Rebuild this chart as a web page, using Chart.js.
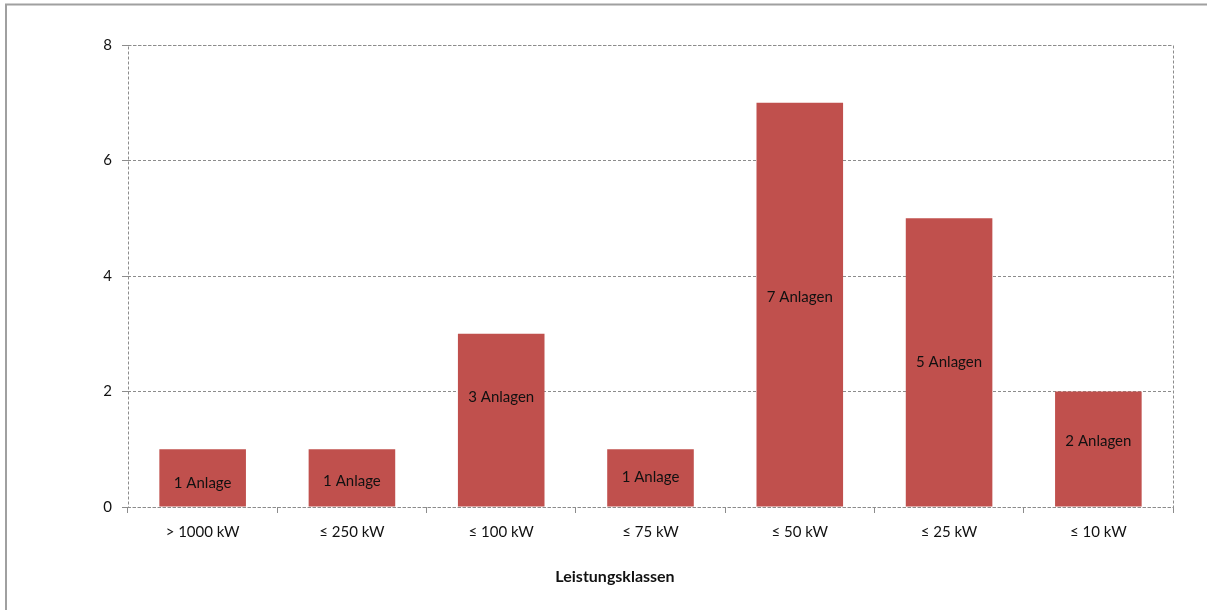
<!DOCTYPE html>
<html>
<head>
<meta charset="utf-8">
<script src="https://cdn.jsdelivr.net/npm/chart.js@4"></script>
<style>
  html, body { margin: 0; padding: 0; background: #fff; }
  #wrap { width: 1207px; height: 610px; position: relative; }
</style>
</head>
<body>
<div id="wrap"><canvas id="c" width="1207" height="610"></canvas></div>
<script>
// Leistungsklassen und Anzahl der Anlagen je Klasse
const categories = ['> 1000 kW', '≤ 250 kW', '≤ 100 kW', '≤ 75 kW', '≤ 50 kW', '≤ 25 kW', '≤ 10 kW'];
const counts = [1, 1, 3, 1, 7, 5, 2];
const yTicks = [0, 2, 4, 6, 8];
const axisTitle = 'Leistungsklassen';

// Beschriftung aus dem Wert selbst
const barLabels = counts.map(v => v + (v === 1 ? ' Anlage' : ' Anlagen'));
// Höhe der Beschriftung als Anteil der Balkenhöhe
const labelFrac = [0.42, 0.45, 0.635, 0.52, 0.52, 0.5, 0.57];

const FONT = 'Lato, "Open Sans", sans-serif';
const GRID = '#8c8c8c';

const frame = {
  id: 'frame',
  beforeDraw(chart) {
    const ctx = chart.ctx;
    ctx.save();
    ctx.strokeStyle = '#a0a0a0';
    ctx.lineWidth = 2;
    ctx.beginPath();
    ctx.moveTo(6, 610);
    ctx.lineTo(6, 4.5);
    ctx.lineTo(1207, 4.5);
    ctx.stroke();
    ctx.restore();
  },
  afterDatasetsDraw(chart) {
    const ctx = chart.ctx;
    const a = chart.chartArea;
    ctx.save();
    // gestrichelter Rahmen der Zeichenfläche
    ctx.strokeStyle = GRID;
    ctx.lineWidth = 1;
    ctx.setLineDash([3, 2]);
    ctx.strokeRect(Math.round(a.left) + 0.5, Math.round(a.top) + 0.5,
                   Math.round(a.right - a.left), Math.round(a.bottom - a.top));
    ctx.setLineDash([]);
    // Beschriftungen in den Balken
    const meta = chart.getDatasetMeta(0);
    const ys = chart.scales.y;
    ctx.fillStyle = '#111';
    ctx.font = '15px ' + FONT;
    ctx.textAlign = 'center';
    ctx.textBaseline = 'middle';
    meta.data.forEach((bar, i) => {
      const y = ys.getPixelForValue(counts[i] * labelFrac[i]);
      ctx.fillText(barLabels[i], bar.x, y);
    });
    // Achsentitel
    ctx.font = 'bold 16px ' + FONT;
    ctx.fillText(axisTitle, 615, 577);
    ctx.restore();
  }
};

new Chart(document.getElementById('c'), {
  type: 'bar',
  data: {
    labels: categories,
    datasets: [{
      data: counts,
      backgroundColor: '#C0504D',
      borderWidth: 0,
      barPercentage: 0.58,
      categoryPercentage: 1.0
    }]
  },
  options: {
    responsive: false,
    animation: false,
    devicePixelRatio: 1,
    layout: { padding: { left: 0, top: 45, right: 34, bottom: 0 } },
    plugins: { legend: { display: false }, tooltip: { enabled: false } },
    scales: {
      x: {
        afterFit(s) { s.height = 103; },
        grid: { display: true, drawOnChartArea: false, drawTicks: true, tickLength: 6, color: GRID, offset: true },
        border: { display: false },
        ticks: { color: '#111', font: { family: FONT, size: 15 }, padding: 10, maxRotation: 0 }
      },
      y: {
        min: 0, max: 8,
        afterFit(s) { s.width = 128; },
        afterBuildTicks(s) { s.ticks = yTicks.map(v => ({ value: v })); },
        grid: { color: GRID, tickLength: 6, drawTicks: true },
        border: { display: false, dash: [3, 2] },
        ticks: { color: '#111', font: { family: FONT, size: 15 }, padding: 10 }
      }
    }
  },
  plugins: [frame]
});
</script>
</body>
</html>
